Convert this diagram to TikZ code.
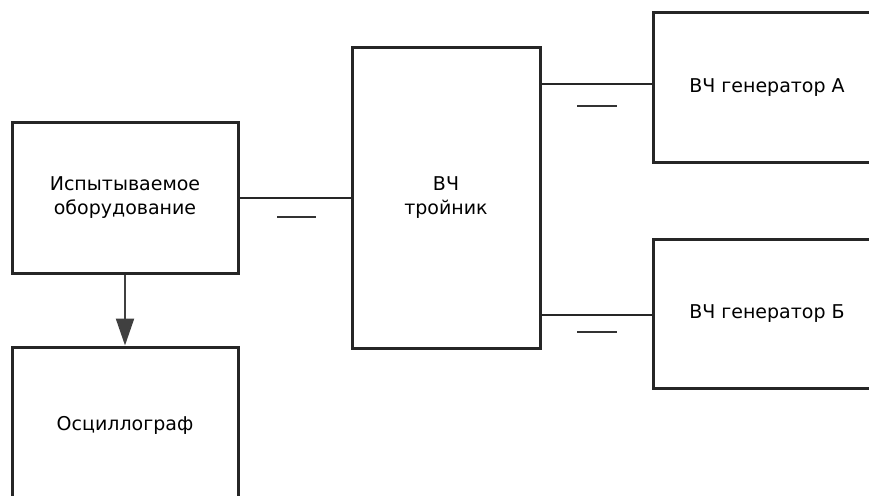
\documentclass[tikz,border=0pt]{standalone}
\usepackage{fontspec}
\setmainfont{DejaVu Sans}
\usetikzlibrary{arrows.meta}
\begin{document}
\begin{tikzpicture}[x=1pt,y=-1pt,
  blockbox/.style={draw=black!85, line width=3pt, fill=white, inner sep=0pt, align=center, font=\fontsize{19}{24}\selectfont},
  link/.style={draw=black!85, line width=2.5pt},
  capline/.style={draw=black!80, line width=2.5pt}]
\useasboundingbox (0,0) rectangle (869,495);
\clip (0,0) rectangle (869,495);
\node[blockbox, minimum width=226pt, minimum height=151pt] (dut) at (125,198) {Испытываемое\\оборудование};
\node[blockbox, minimum width=226pt, minimum height=156pt] (osc) at (125,425) {Осциллограф};
\node[blockbox, minimum width=188pt, minimum height=300pt] (tee) at (446,198) {ВЧ\\тройник};
\node[blockbox, minimum width=228pt, minimum height=149pt] (gena) at (767,87.5) {ВЧ генератор А};
\node[blockbox, minimum width=228pt, minimum height=149pt] (genb) at (767,313.5) {ВЧ генератор Б};
\draw[link] (dut.east) -- (dut.east -| tee.west);
\draw[link] ([yshift=3.5pt]gena.west) -- ([yshift=3.5pt]gena.west -| tee.east);
\draw[link] ([yshift=-1.5pt]genb.west) -- ([yshift=-1.5pt]genb.west -| tee.east);
\draw[line width=2.2pt, -{Triangle[length=27pt,width=18pt]}, color=black!75] (dut.south) -- (osc.north);
\coordinate (c1a) at (277,217); \coordinate (c1b) at (316,217);
\coordinate (c2a) at (577,106); \coordinate (c2b) at (617,106);
\coordinate (c3a) at (577,332); \coordinate (c3b) at (617,332);
\draw[capline] (c1a) -- (c1b);
\draw[capline] (c2a) -- (c2b);
\draw[capline] (c3a) -- (c3b);
\end{tikzpicture}
\end{document}
